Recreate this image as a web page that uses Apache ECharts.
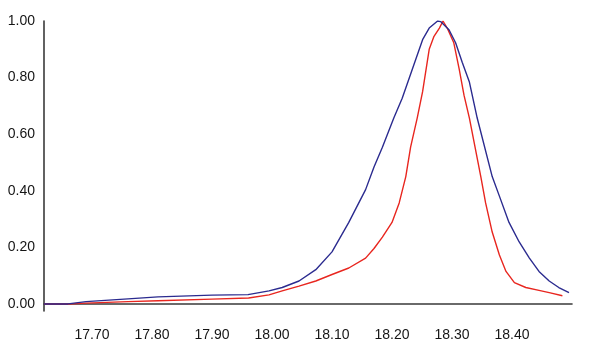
<!DOCTYPE html>
<html>
<head>
<meta charset="utf-8">
<script src="https://cdn.jsdelivr.net/npm/echarts@6/dist/echarts.min.js"></script>
<style>
  html, body { margin: 0; padding: 0; background: #fff; }
  #chart { width: 605px; height: 342px; }
</style>
</head>
<body>
<div id="chart"></div>
<script>
// Retention time (min) and normalised intensity for the two traces
var blueTime = [17.62, 17.66, 17.69, 17.76, 17.81, 17.90, 17.96, 17.995, 18.017, 18.045, 18.073, 18.10, 18.128, 18.156, 18.17, 18.184, 18.203, 18.217, 18.234, 18.251, 18.262, 18.276, 18.281, 18.295, 18.306, 18.317, 18.329, 18.342, 18.367, 18.379, 18.395, 18.412, 18.429, 18.445, 18.462, 18.478, 18.495];
var blueValue = [0, 0, 0.008, 0.018, 0.025, 0.031, 0.033, 0.046, 0.058, 0.081, 0.121, 0.184, 0.288, 0.404, 0.484, 0.554, 0.657, 0.727, 0.830, 0.934, 0.975, 1.00, 0.998, 0.969, 0.923, 0.854, 0.784, 0.657, 0.450, 0.381, 0.288, 0.219, 0.162, 0.115, 0.081, 0.058, 0.040];

var redTime = [17.62, 17.66, 17.69, 17.76, 17.81, 17.90, 17.961, 17.995, 18.017, 18.045, 18.073, 18.10, 18.128, 18.156, 18.17, 18.184, 18.20, 18.212, 18.223, 18.231, 18.242, 18.251, 18.262, 18.27, 18.279, 18.285, 18.292, 18.303, 18.312, 18.32, 18.329, 18.348, 18.356, 18.367, 18.379, 18.39, 18.404, 18.423, 18.445, 18.462, 18.484];
var redValue = [0, 0, 0.003, 0.008, 0.011, 0.017, 0.021, 0.032, 0.046, 0.063, 0.081, 0.104, 0.127, 0.162, 0.196, 0.236, 0.288, 0.357, 0.45, 0.554, 0.657, 0.75, 0.90, 0.946, 0.975, 1.00, 0.975, 0.923, 0.83, 0.738, 0.657, 0.45, 0.357, 0.254, 0.173, 0.115, 0.075, 0.058, 0.048, 0.040, 0.029];

// Tick labels
var xTicks = [17.70, 17.80, 17.90, 18.00, 18.10, 18.20, 18.30, 18.40];
var yTicks = [0, 0.2, 0.4, 0.6, 0.8, 1.0];

function pairs(xs, ys) {
  return xs.map(function (x, i) { return [x, ys[i]]; });
}

var labelFont = {
  fontFamily: "'Liberation Sans', Arial, sans-serif",
  fontSize: 14,
  color: '#151515'
};

var chart = echarts.init(document.getElementById('chart'), null, { renderer: 'canvas' });
chart.setOption({
  animation: false,
  backgroundColor: '#fff',
  grid: { left: 44, right: 33, top: 21, bottom: 25, containLabel: false },
  xAxis: {
    type: 'value',
    min: 17.62,
    max: 18.50,
    axisLine: { show: true, onZero: true, lineStyle: { color: '#3a3a3a', width: 1.6 } },
    axisTick: { show: false },
    splitLine: { show: false },
    axisLabel: Object.assign({
      customValues: xTicks,
      margin: 17,
      formatter: function (v) { return v.toFixed(2); }
    }, labelFont)
  },
  yAxis: {
    type: 'value',
    min: -0.025,
    max: 1.0,
    axisLine: { show: true, lineStyle: { color: '#3a3a3a', width: 1.6 } },
    axisTick: { show: false },
    splitLine: { show: false },
    axisLabel: Object.assign({
      customValues: yTicks,
      margin: 9,
      formatter: function (v) { return v.toFixed(2); }
    }, labelFont)
  },
  series: [
    {
      type: 'line',
      data: pairs(redTime, redValue),
      showSymbol: false,
      lineStyle: { color: '#e8261f', width: 1.4 },
      z: 2
    },
    {
      type: 'line',
      data: pairs(blueTime, blueValue),
      showSymbol: false,
      lineStyle: { color: '#2b2b8f', width: 1.4 },
      z: 3
    }
  ]
});
</script>
</body>
</html>
